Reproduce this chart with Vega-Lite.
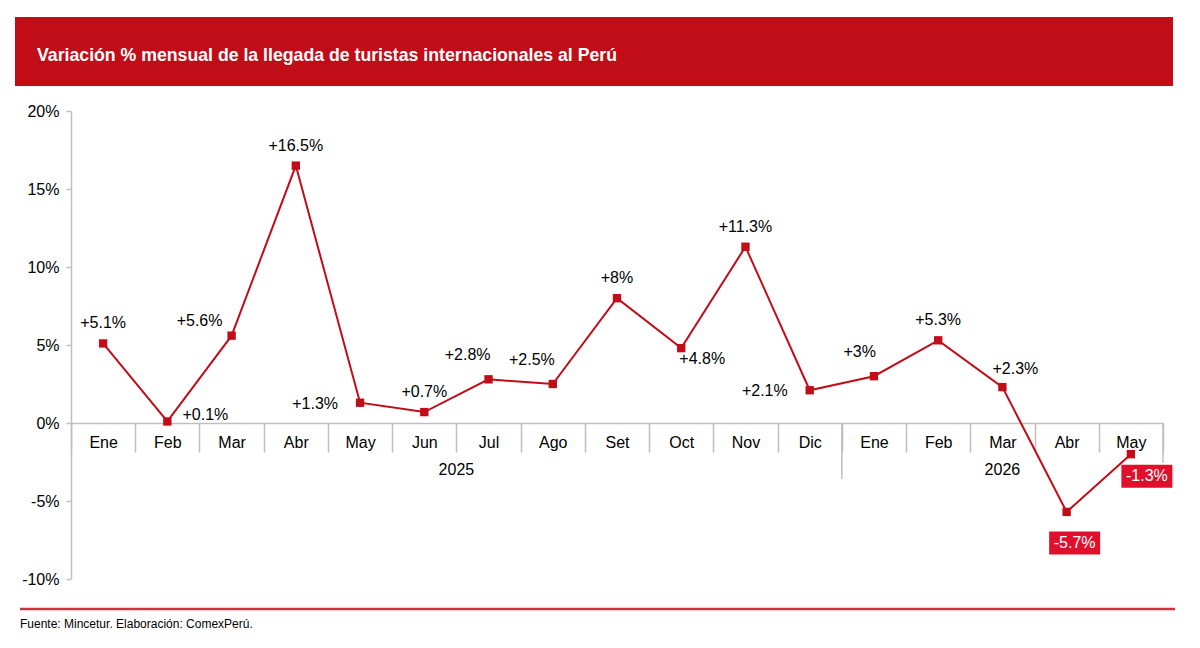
{
  "$schema": "https://vega.github.io/schema/vega-lite/v6.json",
  "width": 1092,
  "height": 468,
  "autosize": {"type": "none"},
  "padding": {"left": 71, "top": 111, "right": 37, "bottom": 69},
  "background": "white",
  "config": {
    "view": {"stroke": null},
    "font": "Liberation Sans",
    "text": {"font": "Liberation Sans", "fontSize": 16, "color": "#000000"}
  },
  "datasets": {
    "serie": [
      {"periodo": "Ene-2025", "variacion": 5.1, "etiqueta": "+5.1%"},
      {"periodo": "Feb-2025", "variacion": 0.1, "etiqueta": "+0.1%"},
      {"periodo": "Mar-2025", "variacion": 5.6, "etiqueta": "+5.6%"},
      {"periodo": "Abr-2025", "variacion": 16.5, "etiqueta": "+16.5%"},
      {"periodo": "May-2025", "variacion": 1.3, "etiqueta": "+1.3%"},
      {"periodo": "Jun-2025", "variacion": 0.7, "etiqueta": "+0.7%"},
      {"periodo": "Jul-2025", "variacion": 2.8, "etiqueta": "+2.8%"},
      {"periodo": "Ago-2025", "variacion": 2.5, "etiqueta": "+2.5%"},
      {"periodo": "Set-2025", "variacion": 8.0, "etiqueta": "+8%"},
      {"periodo": "Oct-2025", "variacion": 4.8, "etiqueta": "+4.8%"},
      {"periodo": "Nov-2025", "variacion": 11.3, "etiqueta": "+11.3%"},
      {"periodo": "Dic-2025", "variacion": 2.1, "etiqueta": "+2.1%"},
      {"periodo": "Ene-2026", "variacion": 3.0, "etiqueta": "+3%"},
      {"periodo": "Feb-2026", "variacion": 5.3, "etiqueta": "+5.3%"},
      {"periodo": "Mar-2026", "variacion": 2.3, "etiqueta": "+2.3%"},
      {"periodo": "Abr-2026", "variacion": -5.7, "etiqueta": "-5.7%"},
      {"periodo": "May-2026", "variacion": -2.0, "etiqueta": "-1.3%"}
    ]
  },
  "layer": [
    {
      "data": {"name": "serie"},
      "encoding": {
        "x": {
          "field": "periodo",
          "type": "nominal",
          "scale": {
            "type": "band",
            "paddingInner": 0,
            "paddingOuter": 0,
            "domain": ["Ene-2025","Feb-2025","Mar-2025","Abr-2025","May-2025","Jun-2025","Jul-2025","Ago-2025","Set-2025","Oct-2025","Nov-2025","Dic-2025","Ene-2026","Feb-2026","Mar-2026","Abr-2026","May-2026"]
          },
          "axis": {
            "title": null,
            "orient": "bottom",
            "offset": -156,
            "domainColor": "#BFBFBF",
            "domainWidth": 1.5,
            "tickColor": "#BFBFBF",
            "tickWidth": 1.5,
            "tickSize": 29,
            "tickBand": "extent",
            "labelAngle": 0,
            "labelFont": "Liberation Sans",
            "labelFontSize": 16,
            "labelColor": "#000000",
            "labelPadding": -18,
            "labelOverlap": false,
            "labelBound": false,
            "labelExpr": "isString(datum.value) ? split(datum.value, '-')[0] : ''",
            "grid": false
          }
        },
        "y": {
          "field": "variacion",
          "type": "quantitative",
          "scale": {"domain": [-10, 20], "nice": false, "zero": false},
          "axis": {
            "title": null,
            "values": [-10, -5, 0, 5, 10, 15, 20],
            "labelExpr": "datum.value + '%'",
            "domainColor": "#BFBFBF",
            "domainWidth": 1.5,
            "tickColor": "#BFBFBF",
            "tickWidth": 1.5,
            "tickSize": 5,
            "labelPadding": 7,
            "labelFont": "Liberation Sans",
            "labelFontSize": 16,
            "labelColor": "#000000",
            "grid": false
          }
        }
      },
      "layer": [
        {"mark": {"type": "line", "color": "#C00D17", "strokeWidth": 2}},
        {"mark": {"type": "point", "shape": "square", "filled": true, "size": 70, "color": "#C00D17", "opacity": 1}},
        {
          "transform": [{"filter": {"field": "periodo", "oneOf": ["Ene-2025", "Abr-2025", "Jun-2025", "Set-2025", "Nov-2025", "Feb-2026"]}}],
          "mark": {"type": "text", "align": "center", "baseline": "middle", "dy": -20},
          "encoding": {"text": {"field": "etiqueta"}}
        },
        {
          "transform": [{"filter": {"field": "periodo", "oneOf": ["Mar-2025"]}}],
          "mark": {"type": "text", "align": "center", "baseline": "middle", "dx": -32, "dy": -15},
          "encoding": {"text": {"field": "etiqueta"}}
        },
        {
          "transform": [{"filter": {"field": "periodo", "oneOf": ["Feb-2025"]}}],
          "mark": {"type": "text", "align": "center", "baseline": "middle", "dx": 38, "dy": -6},
          "encoding": {"text": {"field": "etiqueta"}}
        },
        {
          "transform": [{"filter": {"field": "periodo", "oneOf": ["May-2025", "Dic-2025"]}}],
          "mark": {"type": "text", "align": "right", "baseline": "middle", "dx": -22, "dy": 1},
          "encoding": {"text": {"field": "etiqueta"}}
        },
        {
          "transform": [{"filter": {"field": "periodo", "oneOf": ["Jul-2025", "Ago-2025", "Ene-2026"]}}],
          "mark": {"type": "text", "align": "right", "baseline": "middle", "dx": 2, "dy": -24},
          "encoding": {"text": {"field": "etiqueta"}}
        },
        {
          "transform": [{"filter": {"field": "periodo", "oneOf": ["Oct-2025"]}}],
          "mark": {"type": "text", "align": "center", "baseline": "middle", "dx": 21, "dy": 11},
          "encoding": {"text": {"field": "etiqueta"}}
        },
        {
          "transform": [{"filter": {"field": "periodo", "oneOf": ["Mar-2026"]}}],
          "mark": {"type": "text", "align": "center", "baseline": "middle", "dx": 13, "dy": -18},
          "encoding": {"text": {"field": "etiqueta"}}
        },
        {
          "transform": [{"filter": {"field": "periodo", "oneOf": ["Abr-2026"]}}],
          "mark": {"type": "point", "shape": "M-1,-0.451L1,-0.451L1,0.451L-1,0.451Z", "filled": true, "size": 2601, "color": "#E0102C", "opacity": 1, "xOffset": 8, "yOffset": 31}
        },
        {
          "transform": [{"filter": {"field": "periodo", "oneOf": ["Abr-2026"]}}],
          "mark": {"type": "text", "align": "center", "baseline": "middle", "dx": 8, "dy": 31, "color": "#FFFFFF"},
          "encoding": {"text": {"field": "etiqueta"}}
        },
        {
          "transform": [{"filter": {"field": "periodo", "oneOf": ["May-2026"]}}],
          "mark": {"type": "point", "shape": "M-1,-0.451L1,-0.451L1,0.451L-1,0.451Z", "filled": true, "size": 2601, "color": "#E0102C", "opacity": 1, "xOffset": 16, "yOffset": 22}
        },
        {
          "transform": [{"filter": {"field": "periodo", "oneOf": ["May-2026"]}}],
          "mark": {"type": "text", "align": "center", "baseline": "middle", "dx": 16, "dy": 22, "color": "#FFFFFF"},
          "encoding": {"text": {"field": "etiqueta"}}
        }
      ]
    },
    {
      "data": {"values": [{"pieza": "banner"}]},
      "mark": {"type": "rect", "color": "#C00D17", "xOffset": -56, "x2Offset": 10},
      "encoding": {
        "x": {"datum": "Ene-2025", "bandPosition": 0},
        "x2": {"datum": "May-2026", "bandPosition": 1},
        "y": {"datum": 26.03},
        "y2": {"datum": 21.6}
      }
    },
    {
      "data": {"values": [{"pieza": "titulo"}]},
      "mark": {"type": "text", "font": "Liberation Sans", "fontWeight": "bold", "fontSize": 17.7, "color": "#FFFFFF", "align": "left", "baseline": "alphabetic", "dx": -34},
      "encoding": {
        "x": {"datum": "Ene-2025", "bandPosition": 0},
        "y": {"datum": 23.2},
        "text": {"value": "Variación % mensual de la llegada de turistas internacionales al Perú"}
      }
    },
    {
      "data": {"values": [{"pieza": "linea pie"}]},
      "mark": {"type": "rule", "color": "#CC333E", "strokeWidth": 2.5, "xOffset": -51, "x2Offset": 12},
      "encoding": {
        "x": {"datum": "Ene-2025", "bandPosition": 0},
        "x2": {"datum": "May-2026", "bandPosition": 1},
        "y": {"datum": -11.92}
      }
    },
    {
      "data": {"values": [{"pieza": "fuente"}]},
      "mark": {"type": "text", "fontSize": 12, "align": "left", "baseline": "alphabetic", "dx": -51},
      "encoding": {
        "x": {"datum": "Ene-2025", "bandPosition": 0},
        "y": {"datum": -13.14},
        "text": {"value": "Fuente: Mincetur. Elaboración: ComexPerú."}
      }
    },
    {
      "data": {"values": [{"pieza": "division anio"}]},
      "mark": {"type": "rule", "color": "#BFBFBF", "strokeWidth": 1.5},
      "encoding": {
        "x": {"datum": "Ene-2026", "bandPosition": 0},
        "y": {"datum": 0},
        "y2": {"datum": -3.59}
      }
    },
    {
      "data": {"values": [{"pieza": "cierre eje"}]},
      "mark": {"type": "rule", "color": "#BFBFBF", "strokeWidth": 1.5},
      "encoding": {
        "x": {"datum": "May-2026", "bandPosition": 1},
        "y": {"datum": 0},
        "y2": {"datum": -2.56}
      }
    },
    {
      "data": {"values": [{"anio": "2025"}]},
      "mark": {"type": "text", "align": "center", "baseline": "middle"},
      "encoding": {
        "x": {"datum": "Jul-2025", "bandPosition": 0},
        "y": {"datum": -3.01},
        "text": {"field": "anio"}
      }
    },
    {
      "data": {"values": [{"anio": "2026"}]},
      "mark": {"type": "text", "align": "center", "baseline": "middle"},
      "encoding": {
        "x": {"datum": "Mar-2026", "bandPosition": 0.5},
        "y": {"datum": -3.01},
        "text": {"field": "anio"}
      }
    }
  ]
}
